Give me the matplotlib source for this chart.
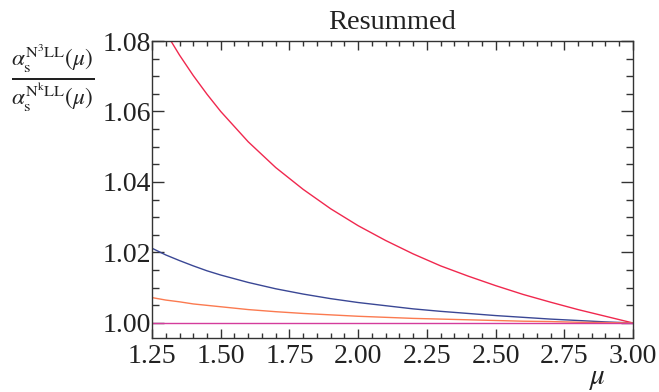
import matplotlib
matplotlib.use("Agg")
import matplotlib.pyplot as plt
from matplotlib.ticker import MultipleLocator, FormatStrFormatter

plt.rcParams['font.family'] = 'Liberation Serif'
plt.rcParams['mathtext.fontset'] = 'stix'

# scale mu and coupling ratio for each order
mu = [1.25, 1.30, 1.35, 1.40, 1.45, 1.50, 1.60, 1.70, 1.80, 1.90, 2.00,
      2.10, 2.20, 2.30, 2.40, 2.50, 2.60, 2.70, 2.80, 2.90, 3.00]
ratio_LL = [1.0894, 1.0824, 1.0760, 1.0702, 1.0649, 1.0600, 1.0514, 1.0441,
            1.0379, 1.0324, 1.0276, 1.0234, 1.0196, 1.0162, 1.0133, 1.0106,
            1.0081, 1.0059, 1.0038, 1.0019, 1.0000]
ratio_NLL = [1.0212, 1.0193, 1.0177, 1.0162, 1.0148, 1.0136, 1.0115, 1.0097,
             1.0082, 1.0069, 1.0058, 1.0049, 1.0040, 1.0033, 1.0027, 1.0021,
             1.0016, 1.0011, 1.0007, 1.0003, 1.0000]
ratio_NNLL = [1.0072, 1.0065, 1.0060, 1.0054, 1.0050, 1.0046, 1.0038, 1.0032,
              1.0027, 1.0023, 1.0019, 1.0016, 1.0013, 1.0011, 1.0009, 1.0007,
              1.0005, 1.0004, 1.0002, 1.0001, 1.0000]
ratio_N3LL = [1.0] * len(mu)

fig = plt.figure(figsize=(6.59, 3.92), dpi=100)
ax = fig.add_axes([0.2307, 0.1378, 0.7298, 0.7576])

ax.plot(mu, ratio_LL, color='#f0284e', lw=1.0)
ax.plot(mu, ratio_NLL, color='#3a4795', lw=1.0)
ax.plot(mu, ratio_NNLL, color='#fb7a50', lw=1.0)
ax.plot(mu, ratio_N3LL, color='#d43c9c', lw=1.0)

ax.set_xlim(1.25, 3.00)
ax.set_ylim(0.99574, 1.08)

ax.xaxis.set_major_locator(MultipleLocator(0.25))
ax.xaxis.set_minor_locator(MultipleLocator(0.05))
ax.yaxis.set_major_locator(MultipleLocator(0.02))
ax.yaxis.set_minor_locator(MultipleLocator(0.005))
ax.xaxis.set_major_formatter(FormatStrFormatter('%.2f'))
ax.yaxis.set_major_formatter(FormatStrFormatter('%.2f'))

ax.tick_params(which='both', direction='in', top=True, right=True,
               color='#333333', width=1.0, labelsize=20, labelcolor='#222222')
ax.tick_params(axis='x', which='major', length=6.2, pad=4)
ax.tick_params(axis='x', which='minor', length=3.6)
ax.tick_params(axis='y', which='major', length=8.4, pad=1)
ax.tick_params(axis='y', which='minor', length=4.8)
for s in ax.spines.values():
    s.set_color('#333333')
    s.set_linewidth(1.0)

ax.set_title('Resummed', fontsize=20.5, pad=9, color='#222222')

fig.text(0.081, 0.800,
         r'$\frac{\alpha_\mathrm{s}^{\mathrm{N^3LL}}(\mu)}{\alpha_\mathrm{s}^{\mathrm{N^kLL}}(\mu)}$',
         fontsize=24, ha='center', va='center', color='#222222')
fig.text(0.907, 0.032, r'$\mu$', fontsize=21, ha='center', va='center',
         color='#222222')

fig.savefig('out.png', dpi=100)
